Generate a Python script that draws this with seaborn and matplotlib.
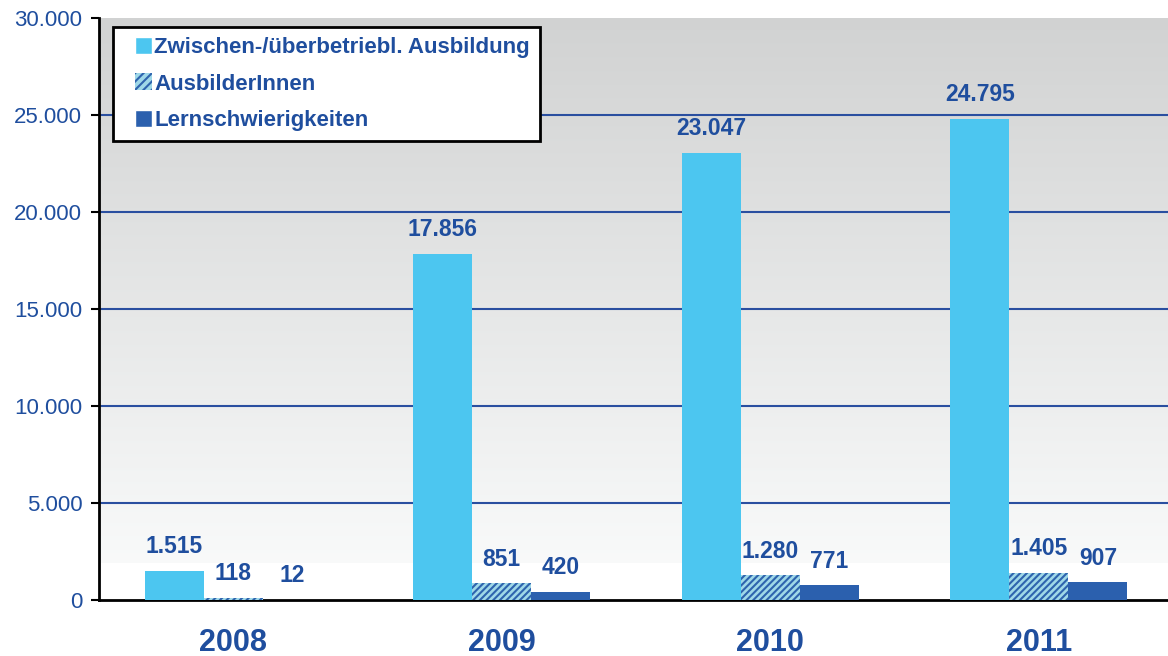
import numpy as np
import pandas as pd
import seaborn as sns
import matplotlib.pyplot as plt
from matplotlib.patches import Patch, Rectangle
from matplotlib.legend_handler import HandlerPatch

years = ["2008", "2009", "2010", "2011"]
series = ["Zwischen-/überbetriebl. Ausbildung", "AusbilderInnen", "Lernschwierigkeiten"]
ausbildung = [1515, 17856, 23047, 24795]
ausbilder = [118, 851, 1280, 1405]
lernschw = [12, 420, 771, 907]
yticks = [0, 5000, 10000, 15000, 20000, 25000, 30000]

TEXT = "#1F4E9E"
colors = ["#4CC6F0", "#9FD8E8", "#2B60AE"]
HATCH_COL = "#2E64AE"


def fmt(v):
    return f"{v:,}".replace(",", ".")


def square_right(legend, orig_handle, xdescent, ydescent, width, height,
                 fontsize):
    # small square sitting at the right end of the handle box
    s = height
    return Rectangle((width - s - xdescent, -ydescent), s, s)


def main():
    df = pd.DataFrame({
        "year": years * 3,
        "series": [s for s in series for _ in years],
        "value": ausbildung + ausbilder + lernschw,
    })

    sns.set_style("white")
    plt.rcParams["font.family"] = ["Liberation Sans", "DejaVu Sans"]
    plt.rcParams["hatch.linewidth"] = 1.5

    fig = plt.figure(figsize=(11.68, 6.56), dpi=100)
    ax = fig.add_axes([99 / 1168, 56 / 656, 1074 / 1168, 582 / 656])

    # gradient background: grey on top, fading to white near the bottom
    grad = np.linspace(0.82, 0.975, 256).reshape(-1, 1)
    ax.imshow(np.dstack([grad, grad * 1.005, grad * 1.005]).clip(0, 1),
              extent=[-0.5, 3.5, 1900, 30000], aspect="auto", zorder=0,
              origin="upper")

    sns.barplot(data=df, x="year", y="value", hue="series", hue_order=series,
                palette=colors, width=0.66, gap=0, legend=False,
                saturation=1, linewidth=0, ax=ax, zorder=3)

    mid = ax.containers[1]
    for p in mid:
        p.set_hatch("/////")
        p.set_edgecolor(HATCH_COL)
        p.set_linewidth(0)

    for cont, vals in zip(ax.containers, [ausbildung, ausbilder, lernschw]):
        ax.bar_label(cont, labels=[fmt(v) for v in vals], padding=9,
                     color=TEXT, fontsize=16.5, fontweight="bold")

    ax.set_xlim(-0.5, 3.5)
    ax.set_ylim(0, 30000)
    ax.set_yticks(yticks)
    ax.set_yticklabels([fmt(v) for v in yticks], color=TEXT, fontsize=16)
    for y in yticks[1:-1]:
        ax.axhline(y, color="#2A4FA0", lw=1.5, zorder=2)

    ax.set_xticks(range(4))
    ax.set_xticklabels(years, color=TEXT, fontsize=22, fontweight="bold")
    ax.set_xticks([-0.5, 0.5, 1.5, 2.5, 3.5], minor=True)
    ax.tick_params(axis="x", which="major", length=0, pad=20)
    ax.tick_params(axis="x", which="minor", length=6, width=1.5,
                   color="black", direction="out")
    ax.tick_params(axis="y", length=6, width=1.5, color="black",
                   direction="out", pad=6, left=True)
    ax.set_xlabel("")
    ax.set_ylabel("")

    for side in ["top", "right"]:
        ax.spines[side].set_visible(False)
    for side in ["left", "bottom"]:
        ax.spines[side].set_color("black")
        ax.spines[side].set_linewidth(2)

    handles = [
        Patch(facecolor=colors[0], label=series[0]),
        Patch(facecolor=colors[1], edgecolor=HATCH_COL, hatch="////",
              linewidth=0, label=series[1]),
        Patch(facecolor=colors[2], label=series[2]),
    ]
    leg = ax.legend(handles=handles, loc="upper left",
                    bbox_to_anchor=(14 / 1074, 1 - 9 / 582),
                    frameon=True, fancybox=False, edgecolor="black",
                    facecolor="white", framealpha=1,
                    handler_map={Patch: HandlerPatch(patch_func=square_right)},
                    handlelength=1.3, handleheight=0.8, handletextpad=0.1,
                    borderpad=0.45, labelspacing=0.68, borderaxespad=0,
                    prop={"size": 16, "weight": "bold"})
    leg.get_frame().set_linewidth(2)
    leg.set_zorder(5)
    for t in leg.get_texts():
        t.set_color(TEXT)

    fig.savefig("out.png", dpi=100)


if __name__ == '__main__':
    main()
